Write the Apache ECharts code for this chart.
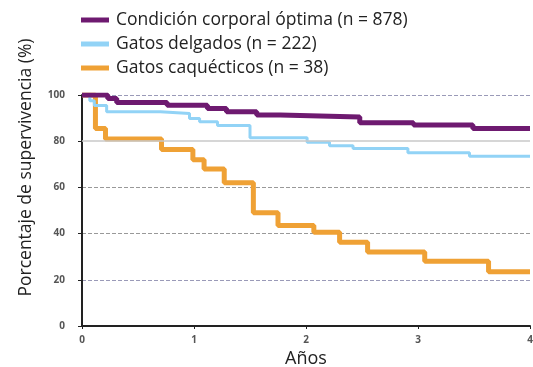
<!DOCTYPE html>
<html><head><meta charset="utf-8">
<script src="https://cdn.jsdelivr.net/npm/echarts@6/dist/echarts.min.js"></script>
<style>html,body{margin:0;padding:0;background:#fff}#c{width:533px;height:367px}</style>
</head><body><div id="c"></div>
<script>
const seriesNames = ['Condición corporal óptima (n = 878)', 'Gatos delgados (n = 222)', 'Gatos caquécticos (n = 38)'];
const optimaYears = [0, 0.23, 0.31, 0.76, 1.12, 1.29, 1.56, 1.77, 2.48, 2.96, 3.49, 4.0];
const optimaPct   = [100, 98.5, 96.7, 95.6, 94.2, 92.8, 91.3, 90.5, 88, 87, 85.5, 85.5];
const delgYears = [0, 0.07, 0.11, 0.22, 0.70, 0.96, 1.05, 1.21, 1.50, 2.01, 2.21, 2.42, 2.91, 3.46, 4.0];
const delgPct   = [100, 97.5, 95.5, 92.8, 92, 89.8, 88.4, 86.8, 81.5, 79.5, 78, 76.8, 75, 73.5, 73.5];
const caqYears = [0, 0.12, 0.21, 0.71, 0.99, 1.09, 1.27, 1.53, 1.75, 2.07, 2.30, 2.55, 3.06, 3.63, 4.0];
const caqPct   = [100, 85.5, 81, 76.4, 72, 68, 62, 49, 43.5, 40.6, 36.3, 32, 28, 23.5, 23.5];
const xTicks = [0, 1, 2, 3, 4];
const yTicks = [0, 20, 40, 60, 80, 100];
const colors = ['#6e1a70', '#92d3f6', '#efa135'];

const pairs = (xs, ys) => xs.map((x, i) => [x, ys[i]]);
const chart = echarts.init(document.getElementById('c'));
const mkSeries = (name, xs, ys, color, w, z) => ({
  name, type: 'line', step: 'end', data: pairs(xs, ys), showSymbol: false, symbol: 'none',
  lineStyle: { color, width: w }, itemStyle: { color }, z
});
const s = [
  mkSeries(seriesNames[0], optimaYears, optimaPct, colors[0], 5, 4),
  mkSeries(seriesNames[1], delgYears, delgPct, colors[1], 3, 3),
  mkSeries(seriesNames[2], caqYears, caqPct, colors[2], 5, 2)
];
s[2].markLine = { silent: true, symbol: 'none', label: { show: false },
  lineStyle: { color: '#c8c8c8', type: 'solid', width: 1.5 }, data: [{ yAxis: 80 }] };
chart.setOption({
  animation: false,
  textStyle: { fontFamily: 'Open Sans' },
  legend: {
    orient: 'vertical', left: 76, top: 6, itemGap: 6, itemWidth: 28, itemHeight: 5,
    icon: 'rect', data: seriesNames,
    textStyle: { fontSize: 17.5, color: '#222', fontFamily: 'Open Sans', padding: [0, 0, 0, 2] }
  },
  grid: { left: 82, right: 3, top: 95, bottom: 41, containLabel: false, outerBoundsMode: 'none' },
  xAxis: {
    type: 'value', min: 0, max: 4, interval: 1,
    name: 'Años', nameLocation: 'middle', nameGap: 20,
    nameTextStyle: { fontSize: 18, color: '#222' },
    axisLine: { lineStyle: { color: '#222', width: 2 } },
    axisTick: { length: 3, lineStyle: { color: '#222' } },
    axisLabel: { fontSize: 10, fontWeight: 'bold', color: '#555', margin: 9,
      formatter: v => xTicks.includes(v) ? String(v) : '' },
    splitLine: { show: false }
  },
  yAxis: {
    type: 'value', min: 0, max: 100, interval: 20,
    name: 'Porcentaje de supervivencia (%)', nameLocation: 'middle', nameGap: 47,
    nameTextStyle: { fontSize: 17.5, color: '#222', padding: [0, 0, 0, 86] },
    axisLine: { show: true, lineStyle: { color: '#222', width: 2 } },
    axisTick: { show: true, length: 4, lineStyle: { color: '#222' } },
    axisLabel: { fontSize: 10, fontWeight: 'bold', color: '#555', margin: 17,
      formatter: v => yTicks.includes(v) ? String(v) : '' },
    splitLine: { show: true, lineStyle: { color: ['#999', '#9a9ab8', '#999', '#999', '#ffffff', '#9a9ab8'], type: 'dashed', width: 1 } }
  },
  series: s
});
</script></body></html>
